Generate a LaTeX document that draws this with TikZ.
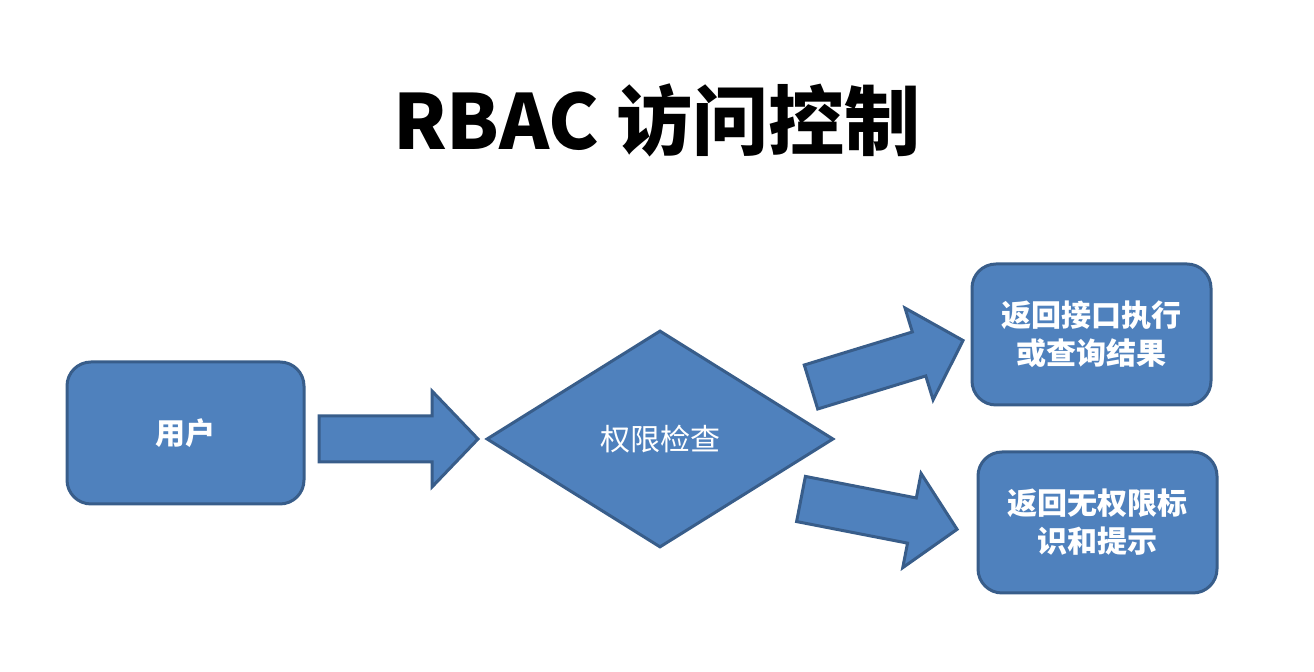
\documentclass[tikz,border=0pt]{standalone}
\usepackage{fontspec}
\setmainfont{Liberation Sans}
\newfontfamily\cjk{Noto Sans CJK SC}
\usetikzlibrary{shapes.geometric}
\definecolor{fillb}{HTML}{4F81BD}
\definecolor{edgeb}{HTML}{385D8A}
\tikzset{x=0.5pt,y=-0.5pt,
  boxst/.style={draw=edgeb,fill=fillb,line width=1.5pt,rounded corners=12pt},
  boxtxt/.style={text=white,font=\cjk\bfseries\fontsize{15}{19}\selectfont,align=center},
  arrtxt/.style={text=white!92!black,font=\cjk\fontsize{9.5}{11}\selectfont},
  arrshape/.style={draw=edgeb,fill=fillb,line width=1.5pt,line join=miter}}
\newcommand{\fatarrow}[4]{% tail center x,y ; angle ; name/label
  \begin{scope}[shift={(#1,#2)},rotate=#3]
    \draw[arrshape] (0,-23) -- (113,-23) -- (113,-48) -- (159,0) -- (113,48) -- (113,23) -- (0,23) -- cycle;
  \end{scope}}
\begin{document}
\begin{tikzpicture}
\useasboundingbox (0,0) rectangle (1314,672);
\node[font=\cjk\bfseries\fontsize{38}{44}\selectfont] (title) at (657,120) {RBAC 访问控制};
\draw[boxst] (67,362) rectangle (304,504);
\node[boxtxt] (user) at (185.5,433) {用户};
\draw[boxst] (972,264) rectangle (1211,405);
\node[boxtxt] (ok) at (1091.5,334.5) {返回接口执行\\或查询结果};
\draw[boxst] (978,452) rectangle (1217,593);
\node[boxtxt] (no) at (1097.5,522.5) {返回无权限标\\识和提示};
\node[diamond,draw=edgeb,fill=fillb,line width=1.5pt,minimum width=173.5pt,minimum height=108.5pt,inner sep=0pt,aspect=1.6] (chk) at (660,439) {};
\node[boxtxt,font=\cjk\fontsize{15}{19}\selectfont] at (chk) {权限检查};
\fatarrow{319}{439}{0}
\node[arrtxt] (a1) at (375,439) {发起访问};
\fatarrow{811}{387}{17}
\node[arrtxt,rotate=17] (a2) at (873,367) {有权限};
\fatarrow{801}{499}{-11}
\node[arrtxt,rotate=-11] (a3) at (869,511) {无权限};
\end{tikzpicture}
\end{document}
